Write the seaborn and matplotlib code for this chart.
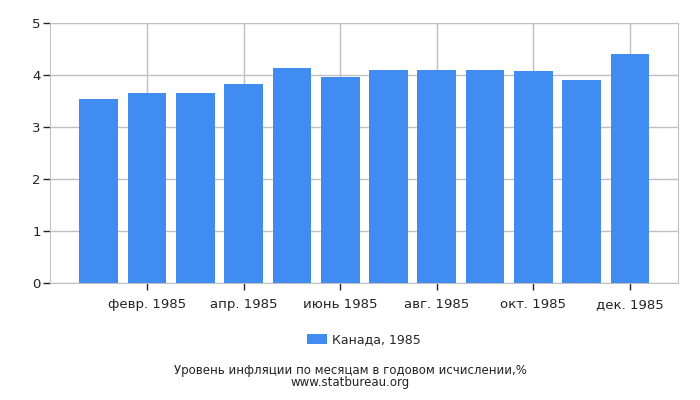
import pandas as pd
import numpy as np
import matplotlib.pyplot as plt
import seaborn as sns

# данные: инфляция в Канаде по месяцам, 1985
months = ["янв. 1985", "февр. 1985", "март 1985", "апр. 1985", "май 1985", "июнь 1985",
          "июль 1985", "авг. 1985", "сент. 1985", "окт. 1985", "нояб. 1985", "дек. 1985"]
values = [3.54, 3.66, 3.66, 3.82, 4.14, 3.95, 4.10, 4.10, 4.10, 4.08, 3.91, 4.40]
tick_pos = [1, 3, 5, 7, 9, 11]
yticks = [0, 1, 2, 3, 4, 5]

data = pd.DataFrame({"month": months, "value": values})

sns.set_style("white")
plt.rcParams['font.family'] = ['DejaVu Sans']

fig = plt.figure(figsize=(7, 4), dpi=100)
ax = fig.add_axes([0.072, 0.292, 0.897, 0.651])

sns.barplot(data=data, x="month", y="value", color="#418CF0", saturation=1,
            width=0.8, linewidth=0, ax=ax, label="Канада, 1985", zorder=3)

ax.set_xlim(-1, 12)
ax.set_ylim(0, 5)
ax.set_yticks(yticks)
ax.set_xticks(tick_pos)
ax.set_xticklabels([months[i] for i in tick_pos])
ax.set_xlabel("")
ax.set_ylabel("")
ax.grid(True, color="#c0c0c0", linewidth=1, zorder=0)
for s in ax.spines.values():
    s.set_color("#c0c0c0")
ax.tick_params(axis="both", bottom=True, left=True, length=5, width=1, color="#222222",
               labelsize=9.5, labelcolor="#222222", direction="out")
ax.tick_params(axis="x", pad=6)
ax.tick_params(axis="y", pad=2)
ax.legend(loc="upper center", bbox_to_anchor=(0.5, -0.15), frameon=False,
          fontsize=9, handlelength=1.6, handleheight=0.9, handletextpad=0.4)

fig.text(0.5, 0.066, "Уровень инфляции по месяцам в годовом исчислении,%",
         ha="center", fontsize=8.5, color="#222222")
fig.text(0.5, 0.034, "www.statbureau.org", ha="center", fontsize=8.5, color="#222222")

fig.savefig("out.png", dpi=100)
